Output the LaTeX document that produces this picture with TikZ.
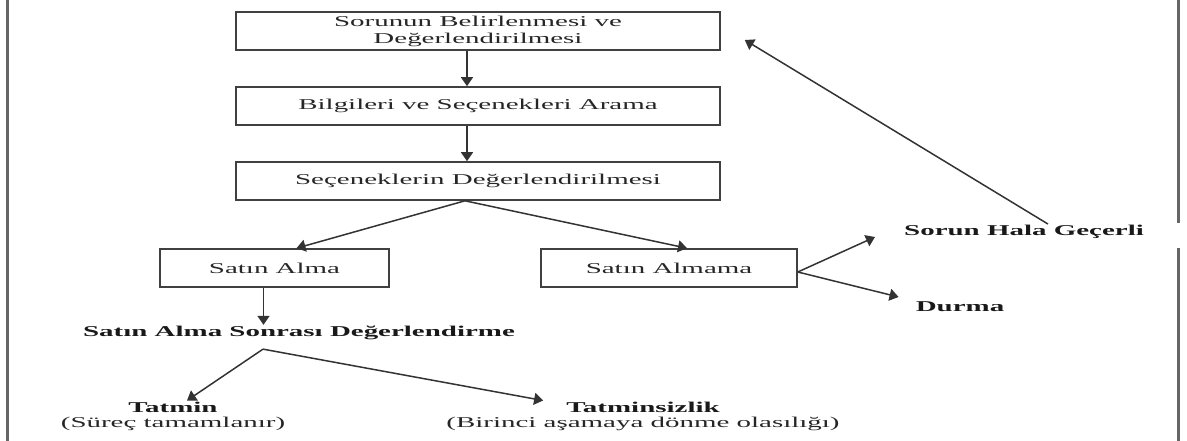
\documentclass[tikz,border=0pt]{standalone}
\usepackage{fontspec}
\setmainfont{Liberation Serif}[FakeStretch=1.93]
\usetikzlibrary{arrows.meta}

\begin{document}
\begin{tikzpicture}[
  x=1pt, y=-1pt,
  font=\fontsize{15}{17}\selectfont,
  stage/.style = {draw=black!75, line width=1.6pt, align=center, text=black!85,
                  minimum height=38pt, inner sep=0pt},
  lbl/.style   = {font=\fontsize{15}{17}\selectfont\bfseries, text=black!90,
                  inner sep=1pt},
  sub/.style   = {text=black!85, inner sep=1pt},
  flow/.style  = {-{Triangle[length=9pt,width=12pt]}, line width=1.5pt,
                  draw=black!80},
  frame/.style = {line width=3pt, draw=black!60},
]
\useasboundingbox (0,0) rectangle (1187,441);

%% ==== page frame, left and right ==========================================
\draw[frame] (7,0) -- (7,441);
\draw[frame] (1178,0) -- (1178,223);
\draw[frame] (1178,248) -- (1178,441);

%% ==== the three decision stages ===========================================
\node[stage, minimum width=484pt] (b1) at (478,31)
  {Sorunun Belirlenmesi ve\\Değerlendirilmesi};
\node[stage, minimum width=484pt] (b2) at (478,106)
  {Bilgileri ve Seçenekleri Arama};
\node[stage, minimum width=484pt] (b3) at (478,181)
  {Seçeneklerin Değerlendirilmesi};

%% ==== buy / do not buy ====================================================
\node[stage, minimum width=229pt] (buy)   at (274.5,268) {Satın Alma};
\node[stage, minimum width=256pt] (nobuy) at (669,268)   {Satın Almama};

%% ==== outcomes ============================================================
\node[lbl] (post)  at (299,333)  {Satın Alma Sonrası Değerlendirme};
\node[lbl] (sat)   at (173,407)  {Tatmin};
\node[sub] (satn)  at (173,424)  {(Süreç tamamlanır)};
\node[lbl] (dis)   at (643,407)  {Tatminsizlik};
\node[sub] (disn)  at (643,424)  {(Birinci aşamaya dönme olasılığı)};
\node[lbl] (still) at (1024,232) {Sorun Hala Geçerli};
\node[lbl] (stop)  at (960,307)  {Durma};

%% ==== main flow ===========================================================
\draw[flow] ([xshift=-11]b1.south) -- ([xshift=-11]b2.north);
\draw[flow] ([xshift=-11]b2.south) -- ([xshift=-11]b3.north);
\draw[flow] ([xshift=-13]b3.south) -- ([xshift=22]buy.north);
\draw[flow] ([xshift=-13]b3.south) -- ([xshift=18]nobuy.north);

%% ==== after the purchase ==================================================
\draw[flow] ([xshift=-11]buy.south) -- ([xshift=-11]buy.south |- post.north);
\draw[flow] ([xshift=-36,yshift=-8]post.south) -- ([xshift=14]sat.north);
\draw[flow] ([xshift=-36,yshift=-8]post.south) -- ([xshift=-22]dis.north west);

%% ==== no purchase, and back to the start ==================================
\draw[flow] ([yshift=-4]nobuy.east) -- ([xshift=-28,yshift=-5]still.west);
\draw[flow] ([yshift=-4]nobuy.east) -- ([xshift=-16,yshift=10]stop.west);
\draw[flow] ([xshift=24]still.north) -- ([xshift=24,yshift=-9]b1.east);

\end{tikzpicture}
\end{document}
